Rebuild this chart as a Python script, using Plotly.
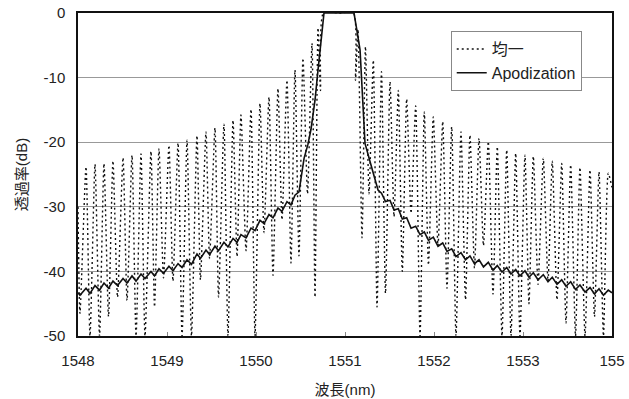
import plotly.graph_objects as go

# ---- Uniform grating (均一): sidelobe peaks and nulls ----
uni_left_peak_nm = [1548.090, 1548.191, 1548.292, 1548.393, 1548.506, 1548.607, 1548.708, 1548.820, 1548.910,
                    1549.022, 1549.124, 1549.225, 1549.337, 1549.438, 1549.539, 1549.640, 1549.742, 1549.831,
                    1549.944, 1550.045, 1550.146, 1550.247, 1550.348, 1550.438, 1550.528, 1550.629, 1550.697]
uni_left_peak_db = [-23.8, -23.4, -23.3, -22.9, -22.4, -22.0, -21.8, -21.4, -21.0,
                    -20.5, -20.1, -19.7, -19.0, -18.4, -17.8, -17.2, -16.6, -15.8,
                    -14.9, -14.0, -13.0, -11.7, -10.4, -8.8, -7.0, -4.7, -2.3]
uni_left_null_nm = [1548.022, 1548.135, 1548.242, 1548.343, 1548.444, 1548.551, 1548.652, 1548.753, 1548.860,
                    1548.961, 1549.067, 1549.169, 1549.275, 1549.376, 1549.478, 1549.579, 1549.685, 1549.787,
                    1549.888, 1549.989, 1550.090, 1550.191, 1550.292, 1550.393, 1550.483, 1550.579, 1550.663]
uni_left_null_db = [-46.5, -50, -50, -47, -44, -44.5, -50, -50, -45.5,
                    -41, -41.5, -50, -50, -41.3, -38, -44, -50, -37.7,
                    -36.8, -50, -34, -40.6, -32, -38.7, -37.6, -28, -44]
uni_main_nm = [1548.000, 1550.725, 1550.758, 1550.930, 1551.096, 1551.118, 1554.000]
uni_main_db = [-30, -12, 0, 0, 0, -10.4, -27]
uni_right_peak_nm = [1551.146, 1551.230, 1551.318, 1551.410, 1551.506, 1551.599, 1551.693, 1551.794, 1551.891,
                     1551.992, 1552.098, 1552.199, 1552.303, 1552.404, 1552.506, 1552.610, 1552.711, 1552.817,
                     1552.918, 1553.022, 1553.116, 1553.228, 1553.329, 1553.435, 1553.536, 1553.640, 1553.753,
                     1553.854, 1553.958]
uni_right_peak_db = [-2.5, -5.2, -7.3, -9.1, -10.6, -12.0, -13.3, -14.4, -15.3,
                     -16.1, -16.8, -17.6, -18.4, -18.9, -19.4, -19.9, -20.7, -21.2,
                     -21.7, -22.0, -22.2, -22.5, -22.9, -23.3, -23.5, -23.9, -24.3,
                     -24.6, -24.8]
uni_right_null_nm = [1551.191, 1551.270, 1551.360, 1551.455, 1551.551, 1551.644, 1551.742, 1551.843, 1551.938,
                     1552.045, 1552.146, 1552.247, 1552.354, 1552.455, 1552.556, 1552.663, 1552.764, 1552.865,
                     1552.966, 1553.067, 1553.169, 1553.281, 1553.382, 1553.483, 1553.590, 1553.697, 1553.803,
                     1553.904]
uni_right_null_db = [-34.8, -28, -45.5, -43.4, -31.5, -40, -31, -50, -39,
                     -36, -42.6, -50, -44.4, -39.5, -36, -43.5, -50, -50,
                     -50, -45, -42, -41.5, -44.4, -48, -50, -50, -47,
                     -50]

# ---- Apodized grating ----
apod_nm = [1548.000, 1548.022, 1548.090, 1548.135, 1548.191, 1548.242, 1548.292, 1548.343, 1548.393, 1548.444,
           1548.506, 1548.551, 1548.607, 1548.652, 1548.708, 1548.753, 1548.820, 1548.860, 1548.910, 1548.961,
           1549.022, 1549.067, 1549.124, 1549.169, 1549.225, 1549.275, 1549.337, 1549.376, 1549.438, 1549.478,
           1549.539, 1549.579, 1549.640, 1549.685, 1549.742, 1549.787, 1549.831, 1549.888, 1549.944, 1549.989,
           1550.045, 1550.090, 1550.146, 1550.191, 1550.247, 1550.292, 1550.348, 1550.393, 1550.438,
           1550.483, 1550.540, 1550.584, 1550.618, 1550.663, 1550.697, 1550.719, 1550.742, 1550.764,
           1550.930, 1551.101, 1551.129, 1551.169, 1551.199, 1551.225, 1551.281, 1551.337, 1551.371,
           1551.410, 1551.455, 1551.506, 1551.551, 1551.599, 1551.644, 1551.693, 1551.742, 1551.794, 1551.843,
           1551.891, 1551.938, 1551.992, 1552.045, 1552.098, 1552.146, 1552.199, 1552.247, 1552.303, 1552.354,
           1552.404, 1552.455, 1552.506, 1552.556, 1552.610, 1552.663, 1552.711, 1552.764, 1552.817, 1552.865,
           1552.918, 1552.966, 1553.022, 1553.067, 1553.116, 1553.169, 1553.228, 1553.281, 1553.329, 1553.382,
           1553.435, 1553.483, 1553.536, 1553.590, 1553.640, 1553.697, 1553.753, 1553.803, 1553.854, 1553.904,
           1553.958, 1554.000]
apod_db = [-43.3, -43.7, -42.6, -43.4, -42.2, -42.9, -41.8, -42.6, -41.5, -42.2,
           -41.1, -41.8, -40.7, -41.5, -40.4, -41.1, -40.0, -40.7, -39.6, -40.3,
           -39.2, -39.9, -38.8, -39.4, -38.2, -38.9, -37.3, -38.0, -36.7, -37.4,
           -36.1, -36.8, -35.5, -36.2, -34.9, -35.5, -34.3, -34.8, -33.3, -33.7,
           -32.1, -32.6, -31.2, -31.7, -30.2, -30.7, -29.2, -29.7, -28.2,
           -27.7, -22.5, -20.3, -18.0, -13.5, -8.8, -5.5, -2.3, 0,
           0, 0, -2.3, -5.7, -13.5, -20.2, -23.0, -25.8, -27.4,
           -27.9, -29.2, -29.0, -30.5, -30.3, -31.9, -31.7, -33.3, -33.0, -34.3,
           -33.9, -35.2, -34.7, -36.1, -35.6, -36.9, -36.5, -37.7, -37.1, -38.2,
           -37.6, -38.8, -38.2, -39.3, -38.6, -39.8, -39.1, -40.1, -39.4, -40.4,
           -39.7, -40.7, -39.9, -40.9, -40.2, -41.3, -40.5, -41.6, -40.9, -42.0,
           -41.3, -42.3, -41.6, -42.8, -42.1, -43.2, -42.5, -43.5, -42.7, -43.7,
           -42.9, -43.3]

x_tick_vals = [1548, 1549, 1550, 1551, 1552, 1553, 1554]
x_tick_text = ["1548", "1549", "1550", "1551", "1552", "1553", "155"]
y_tick_vals = [0, -10, -20, -30, -40, -50]
y_tick_text = ["0", "-10", "-20", "-30", "-40", "-50"]

pts = sorted(zip(uni_left_peak_nm + uni_left_null_nm + uni_main_nm + uni_right_peak_nm + uni_right_null_nm,
                 uni_left_peak_db + uni_left_null_db + uni_main_db + uni_right_peak_db + uni_right_null_db))
uni_x = [p[0] for p in pts]
uni_y = [p[1] for p in pts]

FONT = "Liberation Sans, Arial, Noto Sans CJK JP, sans-serif"

fig = go.Figure()
fig.add_trace(go.Scatter(x=uni_x, y=uni_y, mode="lines", name="均一",
                         line=dict(color="#111", width=1.4, dash="2px,3px", shape="spline", smoothing=0.6)))
fig.add_trace(go.Scatter(x=apod_nm, y=apod_db, mode="lines", name="Apodization",
                         line=dict(color="#111", width=1.6)))

fig.update_layout(
    width=629, height=399,
    margin=dict(l=78, r=17, t=13, b=63, autoexpand=False),
    paper_bgcolor="white", plot_bgcolor="white",
    font=dict(family=FONT, size=15, color="#222"),
    showlegend=True,
    legend=dict(x=0.698, y=0.944, xanchor="left", yanchor="top",
                bgcolor="white", bordercolor="#888", borderwidth=1,
                font=dict(size=16, family=FONT, color="#222")),
    xaxis=dict(range=[1548, 1554], tickvals=x_tick_vals, ticktext=x_tick_text, automargin=False,
               showgrid=False, zeroline=False, showline=True, linecolor="#111", linewidth=1.5,
               mirror=True, ticks="inside", ticklen=4, tickcolor="#888",
               ticklabelstandoff=10,
               title=dict(text="波長(nm)", font=dict(size=15, family=FONT), standoff=17)),
    yaxis=dict(range=[-50, 0], tickvals=y_tick_vals, ticktext=y_tick_text, automargin=False,
               showgrid=True, gridcolor="#999", gridwidth=1, zeroline=False,
               showline=True, linecolor="#111", linewidth=1.5, mirror=True, ticks="",
               ticklabelstandoff=8,
               title=dict(text="透過率(dB)", font=dict(size=15, family=FONT), standoff=12)),
)

# remove the default 8px page margin so the 629x399 figure fills the window exactly
fig.write_html("out.html", config={"displayModeBar": False},
               post_script="document.body.style.margin='0';")
